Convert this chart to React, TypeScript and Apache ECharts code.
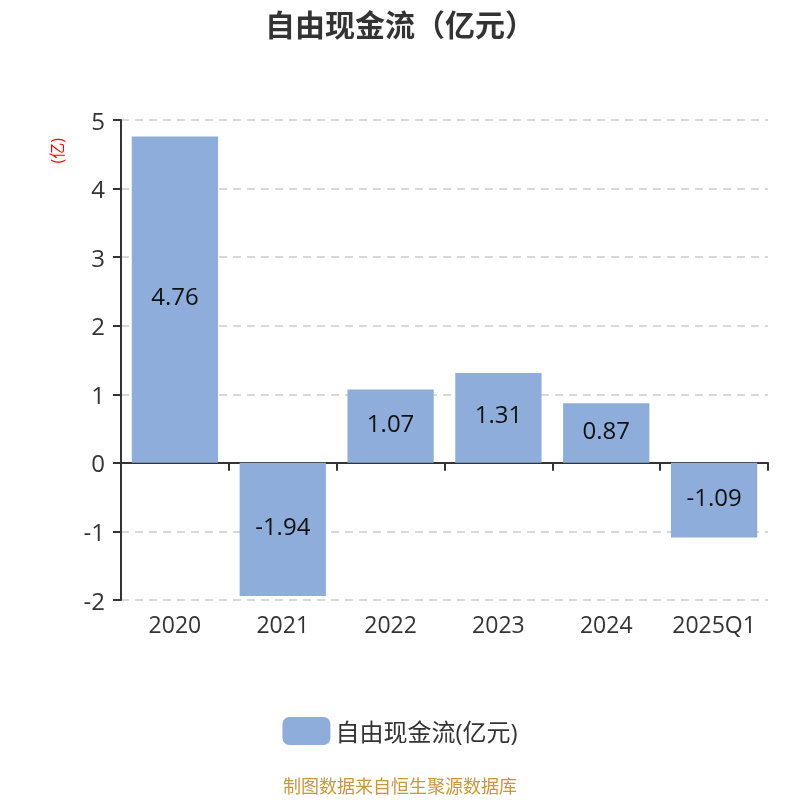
import { useEffect, useRef } from "react";
import * as echarts from "echarts";

const categories = ["2020", "2021", "2022", "2023", "2024", "2025Q1"];
const values = [4.76, -1.94, 1.07, 1.31, 0.87, -1.09];
const seriesName = "自由现金流(亿元)";

export default function App() {
  const ref = useRef<HTMLDivElement | null>(null);

  useEffect(() => {
    if (!ref.current) return;
    const chart = echarts.init(ref.current, undefined, { renderer: "svg" });
    const font = "'Open Sans', 'Noto Sans CJK SC', sans-serif";

    chart.setOption({
      animation: false,
      textStyle: { fontFamily: font },
      title: {
        text: "自由现金流（亿元）",
        left: "center",
        top: 4,
        textStyle: { fontSize: 30, fontWeight: "bold", color: "#333", fontFamily: font },
      },
      legend: {
        bottom: 50,
        left: "center",
        itemWidth: 48,
        itemHeight: 28,
        itemGap: 10,
        icon: "roundRect",
        textStyle: { fontSize: 24, color: "#333" },
        data: [seriesName],
      },
      grid: { left: 121, right: 32, top: 120, bottom: 200 },
      xAxis: [
        {
          type: "category",
          data: categories,
          position: "bottom",
          axisLine: { onZero: true, lineStyle: { color: "#333", width: 2 } },
          axisTick: { show: true, length: 8, lineStyle: { color: "#333", width: 2 } },
          axisLabel: { show: false },
        },
        {
          type: "category",
          data: categories,
          position: "bottom",
          axisLine: { show: false, onZero: false },
          axisTick: { show: false },
          axisLabel: { fontSize: 23, color: "#333", margin: 12, interval: 0 },
        },
      ],
      yAxis: {
        type: "value",
        min: -2,
        max: 5,
        interval: 1,
        axisLine: { show: true, lineStyle: { color: "#333", width: 2 } },
        axisTick: { show: true, length: 8, lineStyle: { color: "#333", width: 2 } },
        axisLabel: { fontSize: 24, color: "#333", margin: 16 },
        splitLine: { lineStyle: { color: "#ccc", type: [8, 6], width: 1.5 } },
      },
      graphic: [
        {
          type: "text",
          left: 49,
          top: 138,
          rotation: Math.PI / 2,
          style: { text: "(亿)", fill: "#ff0000", fontSize: 16, fontFamily: font },
        },
        {
          type: "text",
          left: "center",
          top: 777,
          style: {
            text: "制图数据来自恒生聚源数据库",
            fill: "#c8963c",
            fontSize: 18,
            fontFamily: font,
          },
        },
      ],
      series: [
        {
          name: seriesName,
          type: "bar",
          xAxisIndex: 0,
          data: values,
          barWidth: "80%",
          itemStyle: { color: "#8eaddb" },
          label: {
            show: true,
            position: "inside",
            offset: [0, -4],
            fontSize: 24,
            color: "#111",
          },
        },
      ],
    });

    return () => chart.dispose();
  }, []);

  return <div ref={ref} style={{ position: "fixed", left: 0, top: 0, width: 800, height: 800 }} />;
}
